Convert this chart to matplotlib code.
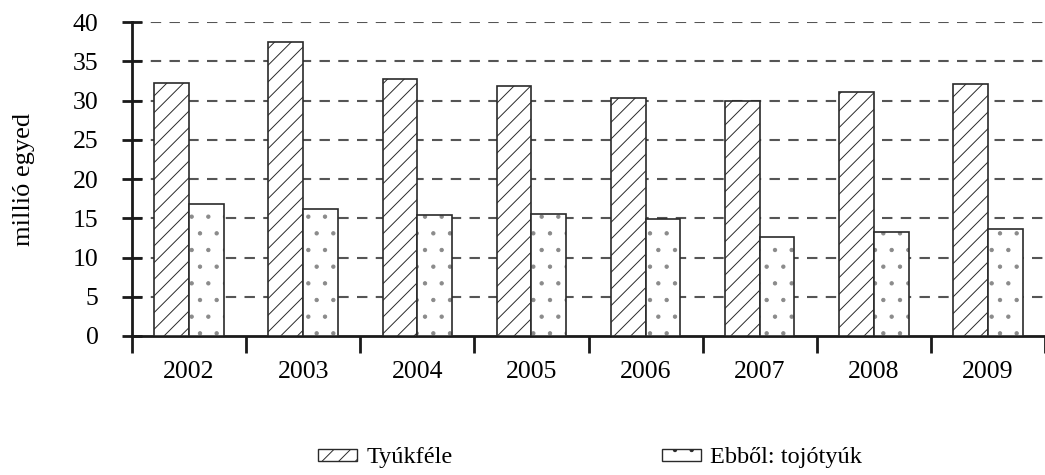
import matplotlib
matplotlib.use("Agg")
import matplotlib.pyplot as plt
from matplotlib.patches import Patch
import numpy as np

years = ["2002", "2003", "2004", "2005", "2006", "2007", "2008", "2009"]
tyukfele = [32.2, 37.4, 32.8, 31.9, 30.3, 29.9, 31.1, 32.1]
tojotyuk = [16.8, 16.2, 15.4, 15.5, 14.9, 12.6, 13.3, 13.6]
series_labels = ["Tyúkféle", "Ebből: tojótyúk"]

plt.rcParams['font.family'] = ['Liberation Serif', 'DejaVu Serif']
plt.rcParams['hatch.linewidth'] = 0.7

fig = plt.figure(figsize=(10.45, 4.75), dpi=100)
ax = fig.add_axes([132 / 1045, 139 / 475, 1 - 132 / 1045, 314 / 475])

x = np.arange(len(years))
bar_width = 0.305
edge = '#2a2a2a'

ax.bar(x - bar_width / 2, tyukfele, bar_width, facecolor='white', edgecolor=edge,
       hatch='//', linewidth=1.2, zorder=3)
# dots drawn in grey, outline drawn separately on top
ax.bar(x + bar_width / 2, tojotyuk, bar_width, facecolor='white', edgecolor='#8a8a8a',
       hatch='.', linewidth=0, zorder=3)
ax.bar(x + bar_width / 2, tojotyuk, bar_width, facecolor='none', edgecolor=edge,
       linewidth=1.2, zorder=4)

# axis settings
ax.set_ylim(0, 40)
ax.set_xlim(-0.5, 7.5 - 3 / 114.5)
ax.set_yticks(np.arange(0, 41, 5))
ax.set_xticks(x)
ax.set_xticklabels(years)
ax.set_xticks(np.arange(-0.5, 8, 1), minor=True)

for s in ['top', 'right']:
    ax.spines[s].set_visible(False)
for s in ['left', 'bottom']:
    ax.spines[s].set_linewidth(2)
    ax.spines[s].set_color('#1a1a1a')

ax.tick_params(axis='y', direction='inout', length=14, width=2, pad=17,
               labelsize=18.5, color='#1a1a1a')
ax.tick_params(axis='x', which='major', length=0, pad=18, labelsize=18.5)
ax.tick_params(axis='x', which='minor', direction='out', length=12, width=2,
               color='#1a1a1a')

# dashed gridlines (no line at 0)
for yv in np.arange(5, 41, 5):
    ax.axhline(yv, color='#555555', linewidth=1.5, linestyle=(0, (5, 4)), zorder=1)

ax.set_ylabel("millió egyed", fontsize=19)
ax.yaxis.set_label_coords(-0.106, 0.5)

# legend handles
handles = [Patch(facecolor='white', edgecolor=edge, hatch='//', linewidth=1.0),
           Patch(facecolor='white', edgecolor=edge, hatch='.', linewidth=1.0)]
fig.legend(handles, series_labels, loc='center',
           bbox_to_anchor=(590 / 1045, 1 - 458 / 475), ncol=2,
           frameon=False, fontsize=17.5, handlelength=1.6, handleheight=0.42,
           handletextpad=0.38, columnspacing=8.6)

fig.savefig("out.png", dpi=100)
